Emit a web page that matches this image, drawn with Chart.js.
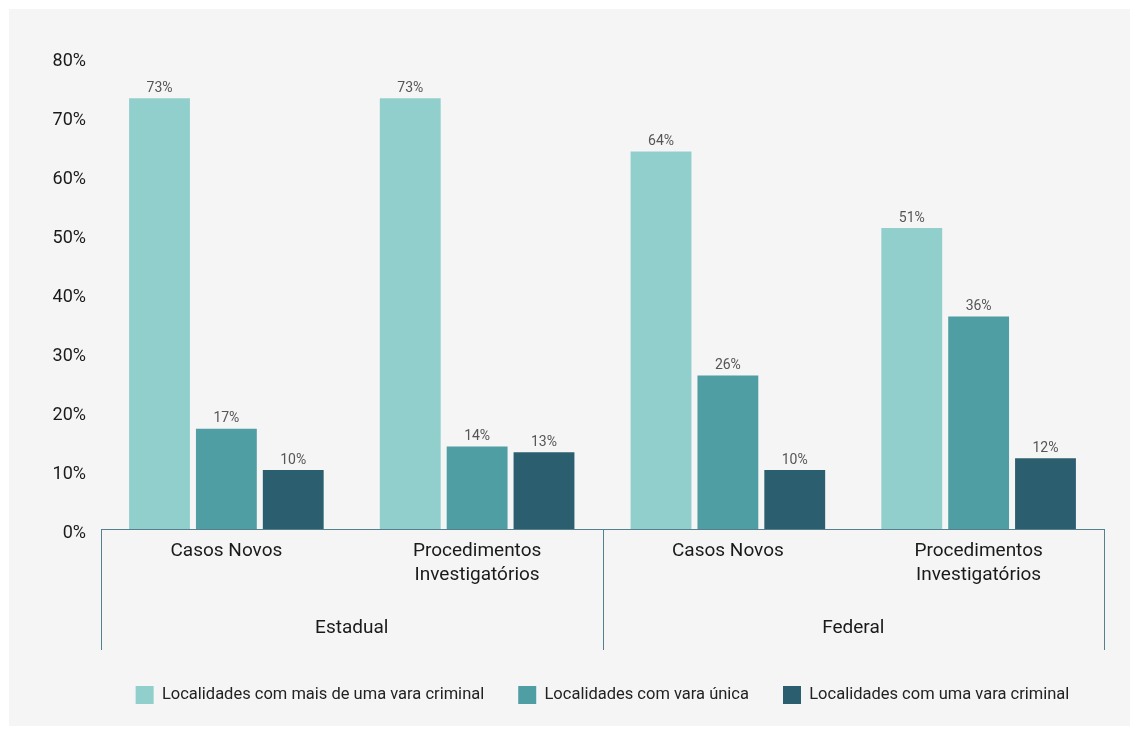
<!DOCTYPE html>
<html><head><meta charset="utf-8">
<script src="https://cdn.jsdelivr.net/npm/chart.js@4.4.1/dist/chart.umd.min.js"></script>
<style>
html,body{margin:0;padding:0;background:#ffffff;}
#wrap{position:absolute;left:9px;top:9px;width:1121px;height:717px;background:#f5f5f5;}
</style></head><body>
<div id="wrap"><canvas id="c"></canvas></div>
<script>
// ---- data ----
const categories = ['Casos Novos', ['Procedimentos', 'Investigatórios'], 'Casos Novos', ['Procedimentos', 'Investigatórios']];
const groups = ['Estadual', 'Federal'];
const seriesNames = ['Localidades com mais de uma vara criminal', 'Localidades com vara única', 'Localidades com uma vara criminal'];
const maisDeUmaVara = [73, 73, 64, 51];
const varaUnica = [17, 14, 26, 36];
const umaVaraCriminal = [10, 13, 10, 12];
const yMin = 0, yMax = 80, yStep = 10;

const colors = ['#91cfcd', '#4f9ea3', '#2b5f70'];
const axisColor = '#55808f';
const FONT = 'Roboto';

const labelPlugin = {
  id: 'barLabels',
  afterDatasetsDraw(chart) {
    const ctx = chart.ctx;
    ctx.save();
    ctx.font = '14px ' + FONT;
    ctx.fillStyle = '#555555';
    ctx.textAlign = 'center';
    ctx.textBaseline = 'middle';
    chart.data.datasets.forEach((ds, i) => {
      const meta = chart.getDatasetMeta(i);
      meta.data.forEach((bar, j) => {
        ctx.fillText(ds.data[j] + '%', bar.x, bar.y - 10);
      });
    });
    ctx.restore();
  }
};

const groupLines = {
  id: 'groupLines',
  afterDraw(chart) {
    const x = chart.scales.x;
    const ctx = chart.ctx;
    const top = x.top;
    const bottom = top + 121;
    const xs = [x.left, x.getPixelForValue(1.5), x.right];
    ctx.save();
    ctx.strokeStyle = axisColor;
    ctx.lineWidth = 1;
    xs.forEach(px => {
      const p = Math.round(px) + 0.5;
      ctx.beginPath();
      ctx.moveTo(p, top);
      ctx.lineTo(p, bottom);
      ctx.stroke();
    });
    ctx.restore();
  }
};

new Chart(document.getElementById('c'), {
  type: 'bar',
  data: {
    labels: categories,
    datasets: [
      { label: seriesNames[0], data: maisDeUmaVara, backgroundColor: colors[0], xAxisID: 'x' },
      { label: seriesNames[1], data: varaUnica, backgroundColor: colors[1], xAxisID: 'x' },
      { label: seriesNames[2], data: umaVaraCriminal, backgroundColor: colors[2], xAxisID: 'x' }
    ]
  },
  options: {
    responsive: true,
    maintainAspectRatio: false,
    animation: false,
    categoryPercentage: 0.8,
    barPercentage: 0.91,
    layout: { padding: { top: 48, right: 26, bottom: 12, left: 0 } },
    plugins: {
      tooltip: { enabled: false },
      legend: {
        position: 'bottom',
        fullSize: false,
        labels: {
          boxWidth: 18, boxHeight: 18, padding: 34,
          color: '#222222',
          font: { family: FONT, size: 16.5 }
        }
      }
    },
    scales: {
      y: {
        min: yMin, max: yMax,
        grid: { display: false, drawTicks: false },
        border: { display: false },
        ticks: {
          stepSize: yStep, padding: 15, labelOffset: 4,
          color: '#1a1a1a',
          font: { family: FONT, size: 18 },
          callback: v => v + '%'
        },
        afterFit(s) { s.width = 92; }
      },
      x: {
        position: 'bottom',
        grid: { display: false, drawTicks: false },
        border: { display: true, color: axisColor, width: 1 },
        ticks: {
          padding: 10, maxRotation: 0, autoSkip: false,
          color: '#1a1a1a',
          font: { family: FONT, size: 19, lineHeight: 1.2632 }
        },
        afterFit(s) { s.height = 72; }
      },
      x2: {
        type: 'category',
        labels: groups,
        position: 'bottom',
        grid: { display: false, drawTicks: false },
        border: { display: false },
        ticks: {
          padding: 16, maxRotation: 0,
          color: '#1a1a1a',
          font: { family: FONT, size: 19, lineHeight: 1.2 }
        },
        afterFit(s) { s.height = 51; }
      }
    }
  },
  plugins: [labelPlugin, groupLines]
});
</script>
</body></html>
